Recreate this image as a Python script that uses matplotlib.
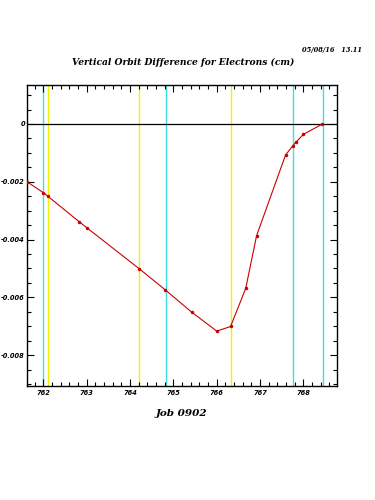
import matplotlib
matplotlib.use("Agg")
import matplotlib.pyplot as plt
from matplotlib.ticker import MultipleLocator

# Data
x_vals = [761.62, 762.00, 762.10, 762.83, 763.00, 764.21, 764.81, 765.42,
          766.00, 766.32, 766.67, 766.92, 767.59, 767.76, 767.83, 768.00, 768.44]
y_vals = [-0.00200, -0.00238, -0.00250, -0.00339, -0.00359, -0.00501, -0.00574, -0.00651,
          -0.00717, -0.00701, -0.00569, -0.00387, -0.00107, -0.00075, -0.00063, -0.00036, 0.0]
cyan_lines = [762.00, 764.82, 767.76, 768.45]
yellow_lines = [762.10, 764.20, 766.32]
x_ticks = [762, 763, 764, 765, 766, 767, 768]
y_ticks = [0, -0.002, -0.004, -0.006, -0.008]
y_tick_labels = ["0", "-0.002", "-0.004", "-0.006", "-0.008"]

FAM = ["DejaVu Sans"]

fig = plt.figure(figsize=(3.75, 5), dpi=100)
ax = fig.add_axes([0.072, 0.228, 0.827, 0.602])

for xv in cyan_lines:
    ax.axvline(xv, color="#40e0e0", lw=1.0, zorder=1)
for xv in yellow_lines:
    ax.axvline(xv, color="#f0f000", lw=1.0, zorder=1)
ax.axhline(0, color="black", lw=0.9, zorder=2)

ax.plot(x_vals, y_vals, color="#cc0000", lw=0.8, marker="o", markersize=1.5, zorder=3)

ax.set_xlim(761.62, 768.78)
ax.set_ylim(-0.00907, 0.00135)

ax.set_xticks(x_ticks)
ax.set_xticklabels([str(t) for t in x_ticks])
ax.set_yticks(y_ticks)
ax.set_yticklabels(y_tick_labels)
ax.xaxis.set_minor_locator(MultipleLocator(0.2))
ax.yaxis.set_minor_locator(MultipleLocator(0.0005))

ax.tick_params(which="both", direction="in", top=True, right=True, width=0.8)
ax.tick_params(which="major", length=5, labelsize=4.8)
ax.tick_params(axis="y", which="major", pad=1.5)
ax.tick_params(axis="x", which="major", pad=3)
ax.tick_params(which="minor", length=3)
for lab in ax.get_xticklabels() + ax.get_yticklabels():
    lab.set_fontstyle("italic")
    lab.set_fontweight("bold")
    lab.set_family(FAM)

for sp in ax.spines.values():
    sp.set_linewidth(1.0)

fig.text(0.488, 0.875, "Vertical Orbit Difference for Electrons (cm)", ha="center", va="center",
         fontsize=6.6, fontstyle="italic", fontweight="bold", family="DejaVu Serif")
fig.text(0.965, 0.900, "05/08/16   13.11", ha="right", va="center",
         fontsize=4.8, fontstyle="italic", fontweight="bold", family="DejaVu Serif")
fig.text(0.485, 0.172, "Job 0902", ha="center", va="center",
         fontsize=7.5, fontstyle="italic", fontweight="bold", family="DejaVu Serif")

fig.savefig("out.png", dpi=100)
